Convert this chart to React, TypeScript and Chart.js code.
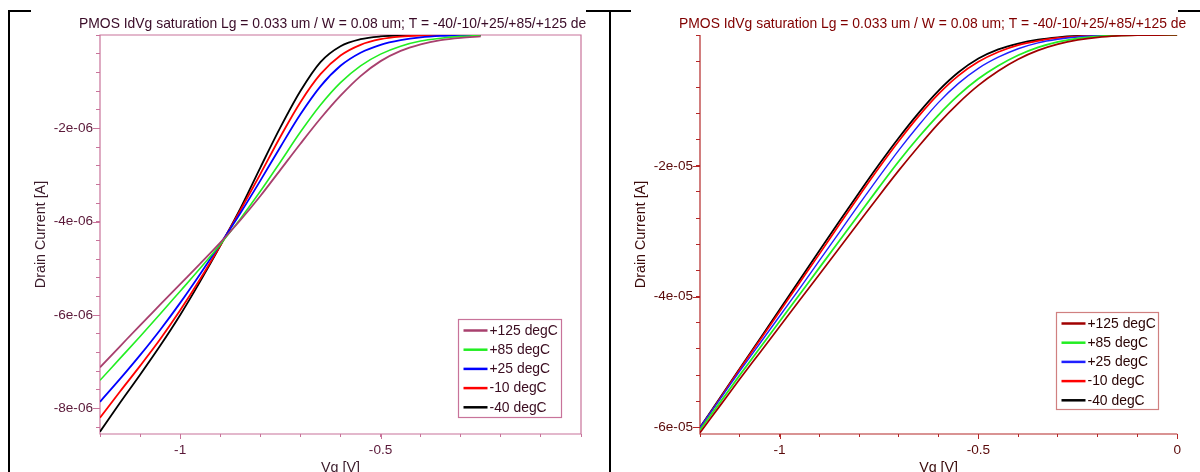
import React, { useEffect, useRef } from "react";
import { Chart, registerables } from "chart.js";

Chart.register(...registerables);

const FONT = "'Liberation Sans', Arial, Helvetica, sans-serif";

const TITLE_TEXT = "PMOS IdVg saturation Lg = 0.033 um / W = 0.08 um; T = -40/-10/+25/+85/+125 degC";
const X_TITLE = "Vg [V]";
const Y_TITLE = "Drain Current [A]";
const SERIES_LABELS = ["+125 degC", "+85 degC", "+25 degC", "-10 degC", "-40 degC"];

// ---------- Left panel ----------
const leftVg = [-1.2, -1.15, -1.1, -1.05, -1.0, -0.95, -0.9, -0.85, -0.8, -0.75, -0.7, -0.65, -0.6, -0.55, -0.5, -0.45, -0.4, -0.35, -0.3, -0.25];
const leftId125 = [-7.12e-6, -6.67e-6, -6.22e-6, -5.78e-6, -5.34e-6, -4.9e-6, -4.45e-6, -3.97e-6, -3.45e-6, -2.89e-6, -2.33e-6, -1.79e-6, -1.3e-6, -0.88e-6, -0.56e-6, -0.34e-6, -0.2e-6, -0.11e-6, -0.06e-6, -0.03e-6];
const leftId85 = [-7.4e-6, -6.93e-6, -6.46e-6, -5.98e-6, -5.49e-6, -5.0e-6, -4.49e-6, -3.94e-6, -3.35e-6, -2.72e-6, -2.08e-6, -1.5e-6, -1.02e-6, -0.66e-6, -0.41e-6, -0.24e-6, -0.13e-6, -0.07e-6, -0.03e-6, -0.01e-6];
const leftId25 = [-7.86e-6, -7.37e-6, -6.86e-6, -6.32e-6, -5.74e-6, -5.12e-6, -4.48e-6, -3.82e-6, -3.12e-6, -2.4e-6, -1.7e-6, -1.1e-6, -0.66e-6, -0.38e-6, -0.21e-6, -0.11e-6, -0.05e-6, -0.02e-6, -0.01e-6, 0];
const leftIdM10 = [-8.2e-6, -7.64e-6, -7.09e-6, -6.52e-6, -5.9e-6, -5.23e-6, -4.51e-6, -3.76e-6, -2.98e-6, -2.18e-6, -1.44e-6, -0.84e-6, -0.44e-6, -0.21e-6, -0.09e-6, -0.035e-6, -0.012e-6, -0.004e-6, 0, 0];
const leftIdM40 = [-8.5e-6, -7.88e-6, -7.28e-6, -6.66e-6, -6.0e-6, -5.28e-6, -4.52e-6, -3.72e-6, -2.84e-6, -1.98e-6, -1.2e-6, -0.58e-6, -0.24e-6, -0.09e-6, -0.03e-6, -0.01e-6, 0, 0, 0, 0];

// ---------- Right panel ----------
const rightVg = [-1.2, -1.15, -1.1, -1.05, -1.0, -0.95, -0.9, -0.85, -0.8, -0.75, -0.7, -0.65, -0.6, -0.55, -0.5, -0.45, -0.4, -0.35, -0.3, -0.25, -0.2, -0.15, -0.1, -0.05, 0];
const rightId125 = [-6.08e-5, -5.67e-5, -5.26e-5, -4.86e-5, -4.46e-5, -4.06e-5, -3.66e-5, -3.26e-5, -2.86e-5, -2.46e-5, -2.07e-5, -1.7e-5, -1.35e-5, -1.04e-5, -0.77e-5, -0.55e-5, -0.37e-5, -0.235e-5, -0.14e-5, -0.075e-5, -0.035e-5, -0.014e-5, -0.004e-5, -0.001e-5, 0];
const rightId85 = [-6.04e-5, -5.62e-5, -5.2e-5, -4.79e-5, -4.38e-5, -3.97e-5, -3.56e-5, -3.15e-5, -2.74e-5, -2.33e-5, -1.93e-5, -1.56e-5, -1.22e-5, -0.92e-5, -0.67e-5, -0.47e-5, -0.31e-5, -0.19e-5, -0.105e-5, -0.05e-5, -0.02e-5, -0.007e-5, -0.002e-5, 0, 0];
const rightId25 = [-6.0e-5, -5.57e-5, -5.14e-5, -4.72e-5, -4.3e-5, -3.88e-5, -3.45e-5, -3.02e-5, -2.59e-5, -2.17e-5, -1.76e-5, -1.38e-5, -1.03e-5, -0.74e-5, -0.51e-5, -0.34e-5, -0.21e-5, -0.12e-5, -0.065e-5, -0.03e-5, -0.012e-5, -0.004e-5, -0.001e-5, 0, 0];
const rightIdM10 = [-6.01e-5, -5.56e-5, -5.11e-5, -4.67e-5, -4.23e-5, -3.79e-5, -3.35e-5, -2.9e-5, -2.46e-5, -2.03e-5, -1.62e-5, -1.24e-5, -0.9e-5, -0.62e-5, -0.41e-5, -0.26e-5, -0.155e-5, -0.09e-5, -0.045e-5, -0.02e-5, -0.008e-5, -0.002e-5, 0, 0, 0];
const rightIdM40 = [-6.0e-5, -5.55e-5, -5.1e-5, -4.65e-5, -4.2e-5, -3.75e-5, -3.3e-5, -2.85e-5, -2.41e-5, -1.98e-5, -1.57e-5, -1.19e-5, -0.85e-5, -0.57e-5, -0.36e-5, -0.22e-5, -0.13e-5, -0.07e-5, -0.035e-5, -0.015e-5, -0.005e-5, -0.001e-5, 0, 0, 0];

// ---------- Axis ranges and labelled ticks ----------
const X_MIN = -1.2;
const X_MAX = 0;
const X_STEP = 0.1;
const leftXLabels = [-1, -0.5];
const rightXLabels = [-1, -0.5, 0];

const LEFT_Y_MIN = -8.55e-6;
const LEFT_Y_STEP = 0.4e-6;
const leftYLabels = [-2e-6, -4e-6, -6e-6, -8e-6];

const RIGHT_Y_MIN = -6.1e-5;
const RIGHT_Y_STEP = 0.4e-5;
const rightYLabels = [-2e-5, -4e-5, -6e-5];

const fmtExp = (v: number) => v.toExponential(0).replace(/e([+-])(\d)$/, "e$10$2");
const fmtX = (v: number) => String(Math.round(v * 10) / 10);

const pts = (xs: number[], ys: number[]) => xs.map((x, i) => ({ x, y: ys[i] }));

type Theme = {
  colors: string[];
  widths: number[];
  axis: string;
  tickText: string;
  titleText: string;
  axisTitle: string;
  legendBorder: string;
  legendText: string;
  fullBox: boolean;
};

const leftTheme: Theme = {
  colors: ["#a8406e", "#22ee22", "#0000ff", "#ff0000", "#000000"],
  widths: [1.8, 1.6, 1.8, 1.8, 1.8],
  axis: "#c8739a",
  tickText: "#5a1838",
  titleText: "#3a0c28",
  axisTitle: "#3a1a2a",
  legendBorder: "#c8739a",
  legendText: "#3a0c20",
  fullBox: true,
};

const rightTheme: Theme = {
  colors: ["#a00000", "#22ee22", "#2020ff", "#ff0000", "#000000"],
  widths: [1.7, 1.8, 1.4, 1.7, 1.8],
  axis: "#b42828",
  tickText: "#5a0a0a",
  titleText: "#800000",
  axisTitle: "#3a0a0a",
  legendBorder: "#d08080",
  legendText: "#2a0505",
  fullBox: false,
};

const titlePlugin = {
  id: "panelTitle",
  afterDraw(chart: any, _a: any, opts: any) {
    const { ctx } = chart;
    ctx.save();
    ctx.font = `13.9px ${FONT}`;
    ctx.fillStyle = opts.color;
    ctx.textBaseline = "middle";
    ctx.textAlign = "left";
    ctx.fillText(opts.text, opts.x, opts.y);
    ctx.restore();
  },
};

const framePlugin = {
  id: "plotFrame",
  beforeDatasetsDraw(chart: any, _a: any, opts: any) {
    const { ctx, chartArea: ca } = chart;
    ctx.save();
    ctx.strokeStyle = opts.color;
    ctx.lineWidth = 1.2;
    ctx.beginPath();
    if (opts.full) {
      ctx.rect(ca.left, ca.top, ca.right - ca.left, ca.bottom - ca.top);
    } else {
      ctx.moveTo(ca.left, ca.top);
      ctx.lineTo(ca.left, ca.bottom);
      ctx.lineTo(ca.right, ca.bottom);
    }
    ctx.stroke();
    // longer marks for labelled ticks
    const xs = chart.scales.x;
    const ys = chart.scales.y;
    ctx.lineWidth = 1;
    ctx.beginPath();
    (opts.xLabels as number[]).forEach((v) => {
      const px = Math.round(xs.getPixelForValue(v)) + 0.5;
      ctx.moveTo(px, ca.bottom);
      ctx.lineTo(px, ca.bottom + 5);
    });
    (opts.yLabels as number[]).forEach((v) => {
      const py = Math.round(ys.getPixelForValue(v)) + 0.5;
      ctx.moveTo(ca.left, py);
      ctx.lineTo(ca.left - 7, py);
    });
    ctx.stroke();
    ctx.restore();
  },
};

const legendPlugin = {
  id: "boxLegend",
  afterDatasetsDraw(chart: any, _a: any, opts: any) {
    const { ctx, chartArea: ca } = chart;
    const w = opts.width;
    const h = opts.height;
    const x0 = Math.round(ca.right - opts.right - w) + 0.5;
    const y0 = Math.round(ca.bottom - opts.bottom - h) + 0.5;
    ctx.save();
    ctx.fillStyle = "#ffffff";
    ctx.fillRect(x0, y0, w, h);
    ctx.strokeStyle = opts.borderColor;
    ctx.lineWidth = 1.2;
    ctx.strokeRect(x0, y0, w, h);
    ctx.font = `13.9px ${FONT}`;
    ctx.textBaseline = "middle";
    ctx.textAlign = "left";
    chart.data.datasets.forEach((ds: any, i: number) => {
      const y = y0 + 11 + i * 19.2;
      ctx.strokeStyle = ds.borderColor;
      ctx.lineWidth = 2.5;
      ctx.beginPath();
      ctx.moveTo(x0 + 5, y);
      ctx.lineTo(x0 + 29, y);
      ctx.stroke();
      ctx.fillStyle = opts.textColor;
      ctx.fillText(ds.label, x0 + 31, y + 0.5);
    });
    ctx.restore();
  },
};

type PanelProps = {
  vg: number[];
  series: number[][];
  yMin: number;
  yStep: number;
  xLabels: number[];
  yLabels: number[];
  theme: Theme;
  padRight: number;
  legendPos: { right: number; bottom: number; width: number; height: number };
};

function near(list: number[], v: number, tol: number) {
  return list.some((t) => Math.abs(t - v) < tol);
}

function Panel(props: PanelProps) {
  const ref = useRef<HTMLCanvasElement | null>(null);
  useEffect(() => {
    const { vg, series, yMin, yStep, xLabels, yLabels, theme, padRight, legendPos } = props;
    const chart = new Chart(ref.current as HTMLCanvasElement, {
      type: "line",
      data: {
        datasets: series.map((ys, i) => ({
          label: SERIES_LABELS[i],
          data: pts(vg, ys),
          borderColor: theme.colors[i],
          backgroundColor: theme.colors[i],
          borderWidth: theme.widths[i],
          pointRadius: 0,
          fill: false,
          cubicInterpolationMode: "monotone" as const,
        })),
      },
      options: {
        responsive: false,
        animation: false,
        devicePixelRatio: 1,
        events: [],
        layout: { padding: { left: 0, top: 35, right: padRight, bottom: 0 } },
        plugins: {
          legend: { display: false },
          tooltip: { enabled: false },
          title: { display: false },
          panelTitle: { text: TITLE_TEXT, x: 79, y: 24, color: theme.titleText },
          plotFrame: { color: theme.axis, full: theme.fullBox, xLabels, yLabels },
          boxLegend: {
            ...legendPos,
            borderColor: theme.legendBorder,
            textColor: theme.legendText,
          },
        } as any,
        scales: {
          x: {
            type: "linear",
            min: X_MIN,
            max: X_MAX,
            afterFit: (s: any) => {
              s.height = 38;
            },
            border: { display: false },
            grid: {
              display: true,
              drawOnChartArea: false,
              drawTicks: true,
              tickLength: 3,
              tickColor: theme.axis,
              color: theme.axis,
            },
            ticks: {
              stepSize: X_STEP,
              autoSkip: false,
              maxRotation: 0,
              padding: 5,
              color: theme.tickText,
              font: { family: FONT, size: 13.6 },
              callback: (v: any) => (near(xLabels, Number(v), 1e-6) ? fmtX(Number(v)) : ""),
            },
            title: {
              display: true,
              text: X_TITLE,
              color: theme.axisTitle,
              font: { family: FONT, size: 14.3 },
              padding: { top: 0, bottom: -5 },
            },
          },
          y: {
            type: "linear",
            min: yMin,
            max: 0,
            afterFit: (s: any) => {
              s.width = 100;
            },
            border: { display: false },
            grid: {
              display: true,
              drawOnChartArea: false,
              drawTicks: true,
              tickLength: 4,
              tickColor: theme.axis,
              color: theme.axis,
            },
            ticks: {
              stepSize: yStep,
              includeBounds: false,
              autoSkip: false,
              padding: 3,
              color: theme.tickText,
              font: { family: FONT, size: 13.6 },
              callback: (v: any) => (near(yLabels, Number(v), Math.abs(yStep) / 100) ? fmtExp(Number(v)) : ""),
            },
            title: {
              display: true,
              text: Y_TITLE,
              color: theme.axisTitle,
              font: { family: FONT, size: 14.3 },
              padding: { top: 32, bottom: 0 },
            },
          },
        },
      },
      plugins: [framePlugin, legendPlugin, titlePlugin],
    } as any);
    return () => chart.destroy();
  }, []);
  return <canvas ref={ref} width={586} height={472} style={{ width: 586, height: 472, display: "block" }} />;
}

const black = "#000000";

export default function App() {
  const bar = (left: number, top: number, width: number, height: number) => (
    <div style={{ position: "absolute", left, top, width, height, background: black, zIndex: 2 }} />
  );
  return (
    <div style={{ position: "absolute", left: 0, top: 0, width: 1200, height: 472, background: "#ffffff", overflow: "hidden" }}>
      <div style={{ position: "absolute", left: 0, top: 0 }}>
        <Panel
          vg={leftVg}
          series={[leftId125, leftId85, leftId25, leftIdM10, leftIdM40]}
          yMin={LEFT_Y_MIN}
          yStep={LEFT_Y_STEP}
          xLabels={leftXLabels}
          yLabels={leftYLabels}
          theme={leftTheme}
          padRight={3}
          legendPos={{ right: 20, bottom: 17, width: 103, height: 98 }}
        />
      </div>
      <div style={{ position: "absolute", left: 600, top: 0 }}>
        <Panel
          vg={rightVg}
          series={[rightId125, rightId85, rightId25, rightIdM10, rightIdM40]}
          yMin={RIGHT_Y_MIN}
          yStep={RIGHT_Y_STEP}
          xLabels={rightXLabels}
          yLabels={rightYLabels}
          theme={rightTheme}
          padRight={4}
          legendPos={{ right: 19, bottom: 25, width: 102, height: 97 }}
        />
      </div>
      {bar(8, 10, 2, 462)}
      {bar(8, 10, 23, 2)}
      {bar(609, 10, 2, 462)}
      {bar(586, 10, 45, 2)}
      {bar(1178, 10, 22, 2)}
    </div>
  );
}
